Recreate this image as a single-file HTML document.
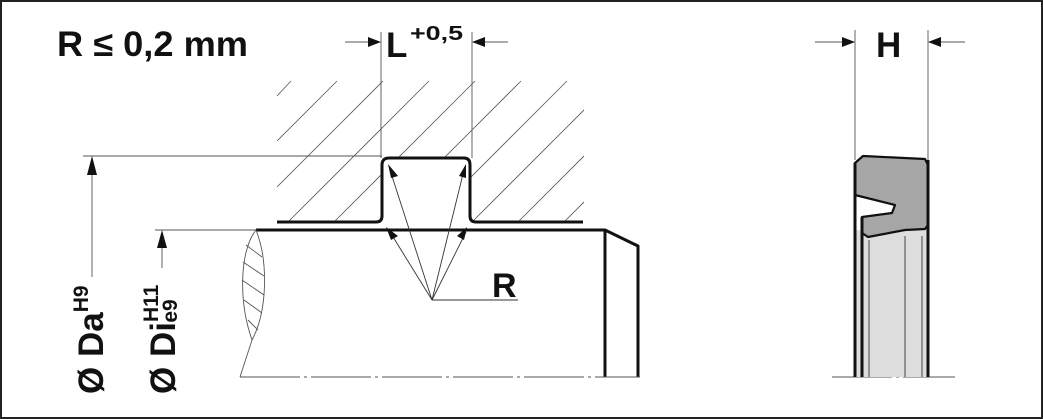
<!DOCTYPE html>
<html><head><meta charset="utf-8"><style>html,body{margin:0;padding:0;background:#fff}svg{display:block}</style></head><body>
<svg width="1043" height="419" viewBox="0 0 1043 419" xmlns="http://www.w3.org/2000/svg" font-family="Liberation Sans, Arial, sans-serif" font-weight="bold">
<rect x="1" y="1" width="1041" height="417" fill="#fff" stroke="#222" stroke-width="2"/>
<defs><clipPath id="h"><rect x="277" y="78" width="307" height="144"/></clipPath></defs>
<g clip-path="url(#h)" stroke="#555" stroke-width="0.8">
<line x1="277" y1="96" x2="291" y2="81"/>
<line x1="277" y1="141" x2="337" y2="81"/>
<line x1="277" y1="187" x2="383" y2="81"/>
<line x1="288" y1="222" x2="429" y2="81"/>
<line x1="334" y1="222" x2="475" y2="81"/>
<line x1="380" y1="222" x2="521" y2="81"/>
<line x1="426" y1="222" x2="567" y2="81"/>
<line x1="472" y1="222" x2="613" y2="81"/>
<line x1="518" y1="222" x2="659" y2="81"/>
<line x1="564" y1="222" x2="705" y2="81"/>
</g>
<rect x="383" y="158" width="87" height="66" fill="#fff"/>
<g fill="none" stroke="#111" stroke-width="3" stroke-linejoin="round">
<path d="M277 222 H376 Q382 222 382 216 V165 Q382 158 389 158 H464 Q470 158 470 165 V216 Q470 222 476 222 H583"/>
<path d="M256 230 H605 L638 246 V377"/>
<line x1="605" y1="230" x2="605" y2="377"/>
</g>
<g stroke="#555" stroke-width="0.9" fill="none">
<line x1="381" y1="32" x2="381" y2="158"/><line x1="472" y1="32" x2="472" y2="158"/>
<line x1="345" y1="42" x2="370" y2="42"/><line x1="484" y1="42" x2="508" y2="42"/>
<line x1="83" y1="156" x2="382" y2="156"/>
<line x1="92" y1="175" x2="92" y2="277"/>
<line x1="155" y1="230" x2="256" y2="230"/>
<line x1="162" y1="248" x2="162" y2="268"/>
<line x1="240" y1="377" x2="640" y2="377" stroke-dasharray="60 4 3 4"/>
<line x1="832" y1="377" x2="955" y2="377" stroke-dasharray="60 4 3 4"/>
<path d="M256 230 C240 250 238 300 252 340 L240 377"/>
<path d="M256 230 C268 260 268 310 252 340"/>
<line x1="246" y1="245" x2="262" y2="257"/><line x1="243" y1="262" x2="264" y2="276"/><line x1="242" y1="280" x2="264" y2="295"/><line x1="244" y1="300" x2="262" y2="313"/><line x1="248" y1="320" x2="258" y2="330"/>
<line x1="855" y1="30" x2="855" y2="160"/><line x1="928" y1="30" x2="928" y2="160"/>
<line x1="815" y1="42" x2="843" y2="42"/><line x1="940" y1="42" x2="965" y2="42"/>
</g>
<g stroke="#333" stroke-width="0.9">
<line x1="432" y1="300" x2="518" y2="300"/>
<line x1="432" y1="300" x2="390" y2="232"/><line x1="432" y1="300" x2="466" y2="232"/>
<line x1="432" y1="300" x2="390" y2="170"/><line x1="432" y1="300" x2="464" y2="170"/>
</g>
<g fill="#111">
<polygon points="381,42 368,37 368,47"/><polygon points="472,42 485,37 485,47"/>
<polygon points="855,42 842,37 842,47"/><polygon points="928,42 941,37 941,47"/>
<polygon points="92,156 87,175 97,175"/><polygon points="162,230 157,248 167,248"/>
<polygon points="386,227 398,236 391,240"/><polygon points="467,227 464,240 457,236"/>
<polygon points="388,164 398,176 391,178"/><polygon points="466,164 466,178 459,176"/>
</g>
<rect x="855" y="230" width="73" height="147" fill="#ddd"/>
<polygon points="855,163 863,156 925,159 928,165 928,225 925,229 905,230 868,237 862,233 862,217 892,213 895,205 855,195" fill="#a6a6a6" stroke="#111" stroke-width="2.2" stroke-linejoin="round"/>
<g stroke="#111" stroke-width="3"><line x1="855" y1="163" x2="855" y2="377"/><line x1="862" y1="217" x2="862" y2="377"/><line x1="928" y1="160" x2="928" y2="377"/></g>
<g stroke="#333" stroke-width="0.9"><line x1="869" y1="240" x2="869" y2="377"/><line x1="905" y1="236" x2="905" y2="377"/><line x1="922" y1="236" x2="922" y2="377"/></g>
<g fill="#111">
<text x="57" y="56" font-size="35" textLength="191" lengthAdjust="spacingAndGlyphs">R ≤ 0,2 mm</text>
<text x="386" y="57" font-size="35">L</text><text x="410" y="40" font-size="20" textLength="53" lengthAdjust="spacingAndGlyphs">+0,5</text>
<text x="876" y="57" font-size="35">H</text>
<text x="492" y="297" font-size="34">R</text>
<text transform="translate(103,394) rotate(-90)" font-size="35">Ø Da<tspan font-size="21" dy="-15">H9</tspan></text>
<text transform="translate(175,394) rotate(-90)" font-size="35">Ø Di<tspan font-size="21" dy="-17">H11</tspan><tspan font-size="21" dx="-38" dy="19">e9</tspan></text>
</g>
</svg>
</body></html>
